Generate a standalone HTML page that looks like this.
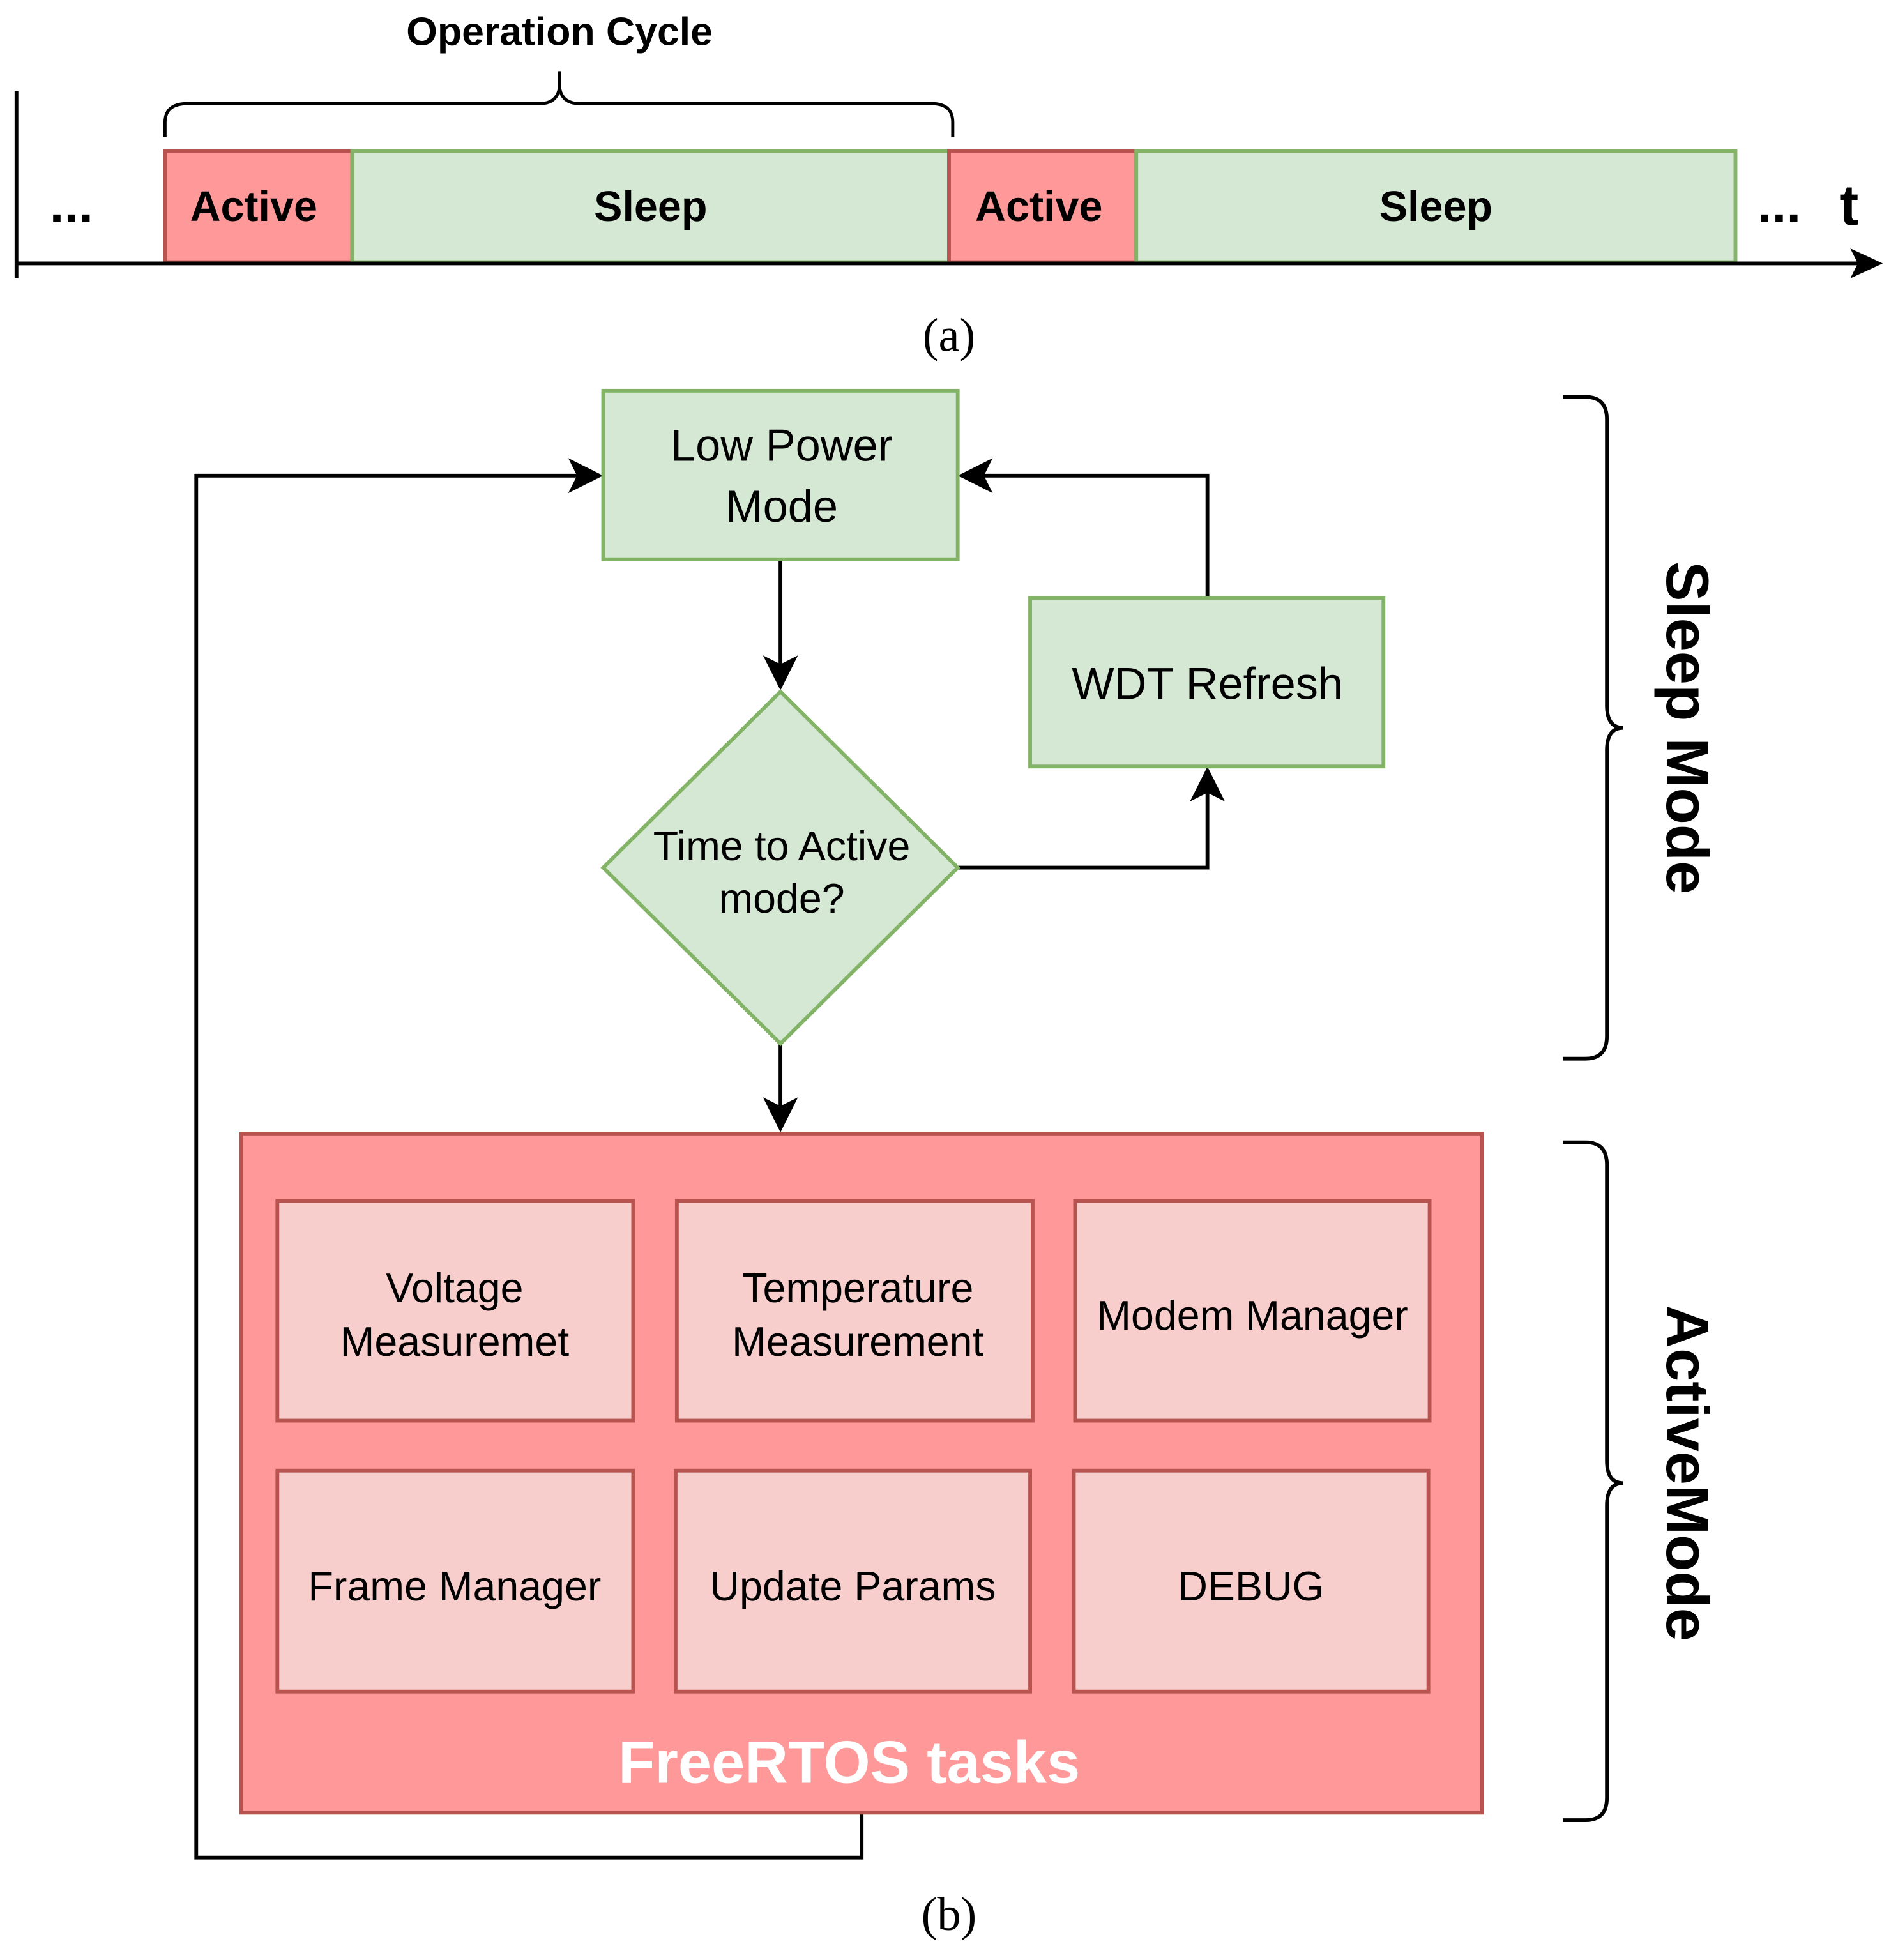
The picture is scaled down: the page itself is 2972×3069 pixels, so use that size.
<!DOCTYPE html>
<html><head><meta charset="utf-8"><style>
html,body{margin:0;padding:0;background:#fff;}
svg{display:block;}
text{font-family:"Liberation Sans",sans-serif;}
</style></head><body>
<svg width="2972" height="3069" viewBox="0 0 1520 1570" xmlns="http://www.w3.org/2000/svg">
<!-- Part (a) -->
<text x="448" y="36" font-size="32" font-weight="bold" text-anchor="middle">Operation Cycle</text>
<path d="M132 110 V98 Q132 83 150 83 H432 Q446 83 448 70 V57 M448 70 Q450 83 464 83 H746 Q763 83 763 98 V110" fill="none" stroke="#000" stroke-width="2.5"/>
<line x1="13" y1="73" x2="13" y2="223" stroke="#000" stroke-width="3"/>
<rect x="132" y="121" width="150" height="89" fill="#ff9999" stroke="#b85450" stroke-width="3"/>
<rect x="282" y="121" width="478" height="89" fill="#d5e8d4" stroke="#82b366" stroke-width="3"/>
<rect x="760" y="121" width="150" height="89" fill="#ff9999" stroke="#b85450" stroke-width="3"/>
<rect x="910" y="121" width="480" height="89" fill="#d5e8d4" stroke="#82b366" stroke-width="3"/>
<line x1="13" y1="211" x2="1492" y2="211" stroke="#000" stroke-width="3"/>
<path d="M1508 211 L1482 199 L1488 211 L1482 223 Z" fill="#000"/>
<g font-size="34" font-weight="bold" text-anchor="middle">
<text x="57" y="178" font-size="42">...</text>
<text x="203" y="177">Active</text>
<text x="521" y="177">Sleep</text>
<text x="832" y="177">Active</text>
<text x="1150" y="177">Sleep</text>
<text x="1425" y="178" font-size="42">...</text>
<text x="1481" y="180" font-size="46">t</text>
</g>
<text x="760" y="281" font-size="38" text-anchor="middle" style="font-family:'Liberation Serif',serif">(a)</text>

<!-- Part (b) -->
<g stroke="#000" stroke-width="3" fill="none">
<path d="M690 1452 V1488 H157 V381 H470"/>
<path d="M625 448 V538"/>
<path d="M767 695 H967 V630"/>
<path d="M967 479 V381 H782"/>
<path d="M625 836 V892"/>
</g>
<g fill="#000">
<path d="M483 381 L455 367 L462 381 L455 395 Z"/>
<path d="M625 553 L611 525 L625 532 L639 525 Z"/>
<path d="M967 614 L953 642 L967 635 L981 642 Z"/>
<path d="M767 381 L795 367 L788 381 L795 395 Z"/>
<path d="M625 907 L611 879 L625 886 L639 879 Z"/>
</g>
<rect x="483" y="313" width="284" height="135" fill="#d5e8d4" stroke="#82b366" stroke-width="3"/>
<rect x="825" y="479" width="283" height="135" fill="#d5e8d4" stroke="#82b366" stroke-width="3"/>
<path d="M625 554 L767 695 L625 836 L483 695 Z" fill="#d5e8d4" stroke="#82b366" stroke-width="3"/>
<g font-size="36" text-anchor="middle">
<text x="626" y="369">Low Power</text>
<text x="626" y="418">Mode</text>
<text x="967" y="560">WDT Refresh</text>
<text x="626" y="689" font-size="33">Time to Active</text>
<text x="626" y="731" font-size="33">mode?</text>
</g>
<rect x="193" y="908" width="994" height="544" fill="#ff9999" stroke="#b85450" stroke-width="3"/>
<g fill="#f8cecc" stroke="#b85450" stroke-width="3">
<rect x="222" y="962" width="285" height="176"/>
<rect x="542" y="962" width="285" height="176"/>
<rect x="861" y="962" width="284" height="176"/>
<rect x="222" y="1178" width="285" height="177"/>
<rect x="541" y="1178" width="284" height="177"/>
<rect x="860" y="1178" width="284" height="177"/>
</g>
<g font-size="33" text-anchor="middle">
<text x="364" y="1043">Voltage</text>
<text x="364" y="1086">Measuremet</text>
<text x="687" y="1043">Temperature</text>
<text x="687" y="1086">Measurement</text>
<text x="1003" y="1065">Modem Manager</text>
<text x="364" y="1282">Frame Manager</text>
<text x="683" y="1282">Update Params</text>
<text x="1002" y="1282">DEBUG</text>
</g>
<text x="680" y="1428" font-size="48" font-weight="bold" fill="#fff" text-anchor="middle">FreeRTOS tasks</text>

<g stroke="#000" stroke-width="3" fill="none">
<path d="M1252 318 H1270 Q1287 318 1287 336 V565 Q1287 583 1300 583 M1300 583 Q1287 583 1287 601 V830 Q1287 848 1270 848 H1252"/>
<path d="M1252 915 H1270 Q1287 915 1287 933 V1170 Q1287 1188 1300 1188 M1300 1188 Q1287 1188 1287 1206 V1440 Q1287 1458 1270 1458 H1252"/>
</g>
<g font-size="48" font-weight="bold" text-anchor="middle">
<text transform="translate(1335 583) rotate(90)">Sleep Mode</text>
<text transform="translate(1335 1180) rotate(90)">ActiveMode</text>
</g>
<text x="760" y="1546" font-size="38" text-anchor="middle" style="font-family:'Liberation Serif',serif">(b)</text>
</svg>
</body></html>
